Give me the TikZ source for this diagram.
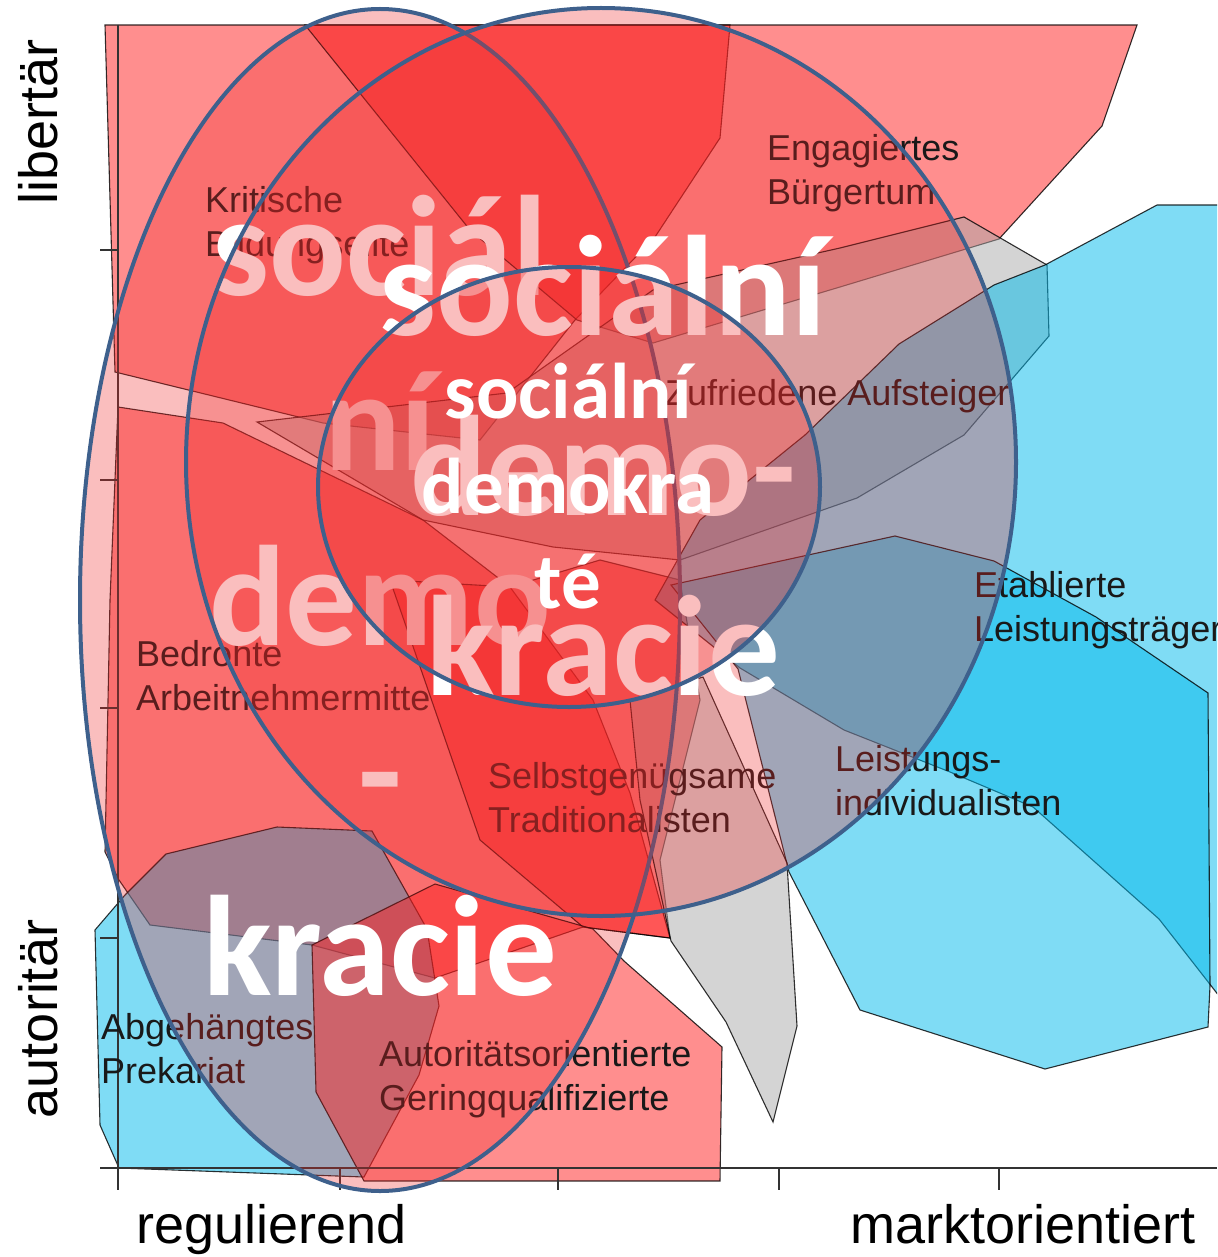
\documentclass[tikz,border=0pt]{standalone}
\usepackage{fontspec}
\setmainfont{Liberation Sans}
\newfontfamily\calibri{Carlito}
\definecolor{plotred}{RGB}{255, 30, 30}
\definecolor{plotblue}{RGB}{0, 185, 235}
\definecolor{plotgray}{RGB}{170, 170, 170}
\definecolor{ringblue}{RGB}{62, 96, 140}
\definecolor{ringred}{RGB}{240, 40, 40}

\begin{document}
\begin{tikzpicture}[
  x=1pt, y=-1pt,
  segment/.style={draw=black, draw opacity=0.8, line width=1.1pt, fill opacity=0.5},
  redseg/.style={segment, fill=plotred},
  blueseg/.style={segment, fill=plotblue},
  grayseg/.style={segment, fill=plotgray},
  axisline/.style={draw=black!80, line width=1.8pt},
  ring/.style={draw=ringblue, line width=4pt, fill=ringred, fill opacity=0.3},
  typelabel/.style={font=\fontsize{36}{44}\selectfont, anchor=base west,
                    inner sep=0, align=left, text=black!90},
  axislabel/.style={font=\fontsize{54}{60}\selectfont, anchor=base, inner sep=0},
  bigword/.style={font=\calibri\bfseries\fontsize{143}{172}\selectfont,
                  text=white, anchor=base, inner sep=0},
  smallword/.style={bigword, font=\calibri\bfseries\fontsize{79}{95}\selectfont},
]
\useasboundingbox (0,0) rectangle (1217,1257);
\clip (0,0) rectangle (1217,1257);

% segments of the map
\draw[redseg] (105,25) -- (730,25) -- (720,138) -- (655,237) -- (575,320)
  -- (480,440) -- (323,423) -- (115,372) -- cycle;
\draw[redseg] (305,25) -- (1137,25) -- (1102,126) -- (999,239) -- (840,287)
  -- (653,343) -- (577,320) -- (470,230) -- cycle;
\draw[redseg] (118,407) -- (223,423) -- (423,520) -- (510,587) -- (593,700)
  -- (630,793) -- (670,938) -- (583,927) -- (435,978) -- (312,945)
  -- (150,925) -- (119,880) -- (105,852) -- (110,600) -- cycle;
\draw[redseg] (390,580) -- (510,587) -- (600,560) -- (680,580) -- (700,700)
  -- (660,860) -- (670,938) -- (583,927) -- (480,840) -- cycle;
\draw[grayseg] (257,422) -- (507,393) -- (653,290) -- (840,248) -- (964,217)
  -- (1047,265) -- (1049,336) -- (964,435) -- (857,498) -- (680,560)
  -- (553,547) -- (423,520) -- cycle;
\draw[blueseg] (1045,265) -- (1157,205) -- (1230,205) -- (1230,1010)
  -- (1159,919) -- (1033,807) -- (950,772) -- (844,730) -- (740,668)
  -- (655,600) -- (700,520) -- (805,435) -- (899,344) -- (994,285) -- cycle;
\draw[blueseg] (671,585) -- (895,536) -- (994,561) -- (1096,617) -- (1208,693)
  -- (1210,986) -- (1208,1027) -- (1045,1069) -- (860,1010) -- (789,872)
  -- (738,669) -- cycle;
\draw[grayseg] (630,700) -- (703,677) -- (787,863) -- (797,1026) -- (773,1122)
  -- (726,1022) -- (671,941) -- (640,800) -- cycle;
\draw[blueseg] (95,930) -- (125,895) -- (166,854) -- (277,827) -- (372,831)
  -- (427,929) -- (439,1006) -- (419,1075) -- (364,1177) -- (119,1168)
  -- (100,1125) -- cycle;
\draw[redseg] (312,945) -- (435,884) -- (593,929) -- (624,961) -- (722,1047)
  -- (720,1181) -- (364,1181) -- (316,1092) -- cycle;

% axes
\draw[axisline] (118,25) -- (118,1190);
\draw[axisline] (100,1168) -- (1217,1168);
\foreach \y in {250,480,708,938}
  \draw[axisline] (100,\y) -- (118,\y);
\foreach \x in {340,558,779,999}
  \draw[axisline] (\x,1168) -- (\x,1190);

\node[axislabel, rotate=90] (libertaer) at (57,122) {libertär};
\node[axislabel, rotate=90] (autoritaer) at (57,1019) {autoritär};
\node[axislabel] (regulierend) at (272,1243) {regulierend};
\node[axislabel] (markt) at (1023,1243) {marktorientiert};

% types (anchored at the baseline of the last line)
\node[typelabel] (kritisch) at (205,257) {Kritische\\Bildungselite};
\node[typelabel] (engagiert) at (767,205) {Engagiertes\\Bürgertum};
\node[typelabel] (zufrieden) at (665,405) {Zufriedene Aufsteiger};
\node[typelabel] (etabliert) at (974,641) {Etablierte\\Leistungsträger};
\node[typelabel] (bedroht) at (136,710) {Bedrohte\\Arbeitnehmermitte};
\node[typelabel] (selbst) at (488,832) {Selbstgenügsame\\Traditionalisten};
\node[typelabel] (leistung) at (835,815) {Leistungs-\\individualisten};
\node[typelabel] (abgehaengt) at (101,1083) {Abgehängtes\\Prekariat};
\node[typelabel] (autoritaet) at (379,1110) {Autoritätsorientierte\\Geringqualifizierte};

% rings
\draw[ring] (380,600) ellipse [x radius=300, y radius=591];
\foreach \w [count=\i] in {sociál,ní,demo,-,kracie}
  \node[bigword] (outer\i) at (380,{295+175*(\i-1)}) {\w};

\draw[ring] (601,462) ellipse [x radius=415, y radius=454];
\foreach \w [count=\i] in {sociální,demo-,kracie}
  \node[bigword] (middle\i) at (603,{335+180*(\i-1)}) {\w};

\draw[ring] (569,487) ellipse [x radius=251, y radius=220];
\foreach \w [count=\i] in {sociální,demokra,té}
  \node[smallword] (inner\i) at (568,{418+95*(\i-1)}) {\w};
\end{tikzpicture}
\end{document}
